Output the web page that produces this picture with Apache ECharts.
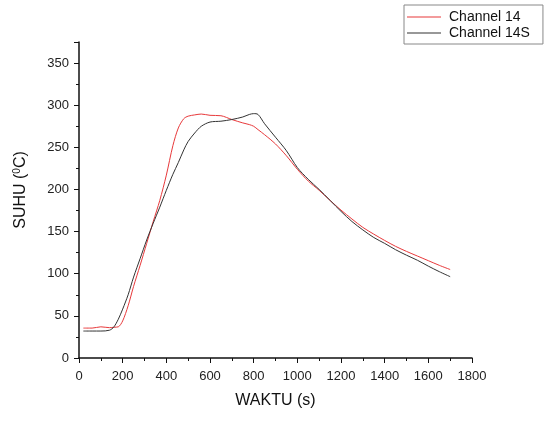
<!DOCTYPE html>
<html><head><meta charset="utf-8">
<script src="https://cdn.jsdelivr.net/npm/echarts@6/dist/echarts.min.js"></script>
<style>html,body{margin:0;padding:0;background:#fff}#c{width:545px;height:427px}</style>
</head><body><div id="c"></div>
<script>
var time = [20,60,100,140,160,180,200,225,250,280,310,340,370,400,430,455,480,500,530,560,600,650,700,750,780,800,820,850,900,950,1000,1050,1100,1150,1200,1250,1300,1350,1400,1450,1500,1550,1600,1650,1700];
var channel14 = [35.5,35.5,37,36,36.5,37,44,62,85,110,136,162,187,217,252,273,284,287,288.5,289.5,288,287.5,283,279,277,275,271,265,254,240,224,210,199,187,175.5,165,155,147,139.5,132.5,126.5,121,115.5,110,105];
var channel14S = [32,32,32,33,37,46,58,75,96,118,140,160,179,199,218,232,247,257,267,275,280,281,283,286,289,290,289,278,262,246,226,212,200,187,174,162,152,143,136,128.5,122,116,109,102.5,96.5];
var xTicks = [0,200,400,600,800,1000,1200,1400,1600,1800];
var yTicks = [0,50,100,150,200,250,300,350];

function pairs(xs, ys){ return xs.map(function(x,i){ return [x, ys[i]]; }); }
var font = '"Liberation Sans", Arial, sans-serif';
var chart = echarts.init(document.getElementById('c'), null, {renderer:'canvas'});
chart.setOption({
  animation:false,
  backgroundColor:'#fff',
  grid:{left:79, right:73, top:42, bottom:69, containLabel:false},
  legend:{
    orient:'vertical', left:404, top:5,
    padding:[4,13,3,3], itemGap:0, itemWidth:34, itemHeight:1, icon:'rect',
    borderColor:'#888', borderWidth:1,
    textStyle:{fontFamily:font, fontSize:14, color:'#111', lineHeight:16, padding:[0,0,0,3]},
    data:['Channel 14','Channel 14S']
  },
  graphic:[{
    type:'text', x:21, y:190, rotation:Math.PI/2,
    style:{
      text:'{a|SUHU (}{s|0}{a|C)}', align:'center', verticalAlign:'middle',
      rich:{a:{fontFamily:font, fontSize:16, fill:'#111'}, s:{fontFamily:font, fontSize:10, fill:'#111', verticalAlign:'top', padding:[0,0,7,0]}}
    }
  }],
  xAxis:{
    type:'value', min:0, max:1800, interval:200,
    name:'WAKTU (s)', nameLocation:'middle', nameGap:35,
    nameTextStyle:{fontFamily:font, fontSize:16, color:'#111'},
    axisLine:{show:true, onZero:false, lineStyle:{color:'#111', width:1.5}},
    axisTick:{show:true, inside:false, length:5, lineStyle:{color:'#111'}},
    minorTick:{show:true, splitNumber:2, length:3, lineStyle:{color:'#111'}},
    axisLabel:{fontFamily:font, fontSize:13, color:'#222', margin:12,
      formatter:function(v){ return xTicks.indexOf(v)>=0 ? String(v) : ''; }},
    splitLine:{show:false}
  },
  yAxis:{
    type:'value', min:0, max:375, interval:50,
    axisLine:{show:true, onZero:false, lineStyle:{color:'#111', width:1.5}},
    axisTick:{show:true, inside:false, length:5, lineStyle:{color:'#111'}},
    minorTick:{show:true, splitNumber:2, length:3, lineStyle:{color:'#111'}},
    axisLabel:{fontFamily:font, fontSize:13, color:'#222', margin:10,
      formatter:function(v){ return yTicks.indexOf(v)>=0 ? String(v) : ''; }},
    splitLine:{show:false}
  },
  series:[
    {name:'Channel 14', type:'line', data:pairs(time, channel14), symbol:'none', smooth:0.3,
     lineStyle:{color:'#e8393b', width:1}, itemStyle:{color:'#e8393b'}},
    {name:'Channel 14S', type:'line', data:pairs(time, channel14S), symbol:'none', smooth:0.3,
     lineStyle:{color:'#333', width:1}, itemStyle:{color:'#333'}}
  ]
});
</script>
</body></html>
